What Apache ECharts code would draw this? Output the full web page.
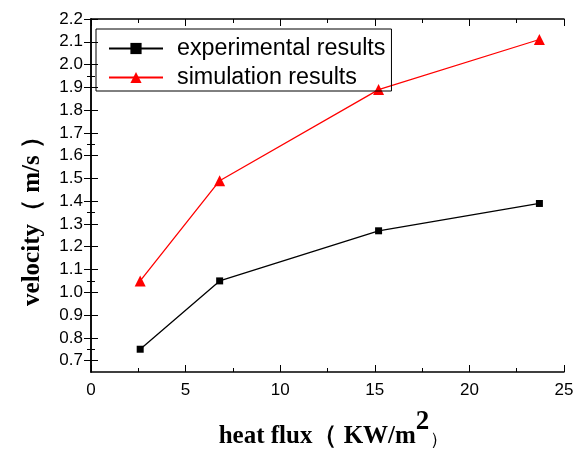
<!DOCTYPE html>
<html><head><meta charset="utf-8">
<script src="https://cdn.jsdelivr.net/npm/echarts@6/dist/echarts.min.js"></script>
<style>html,body{margin:0;padding:0;background:#fff}#c{width:574px;height:454px}</style>
</head><body><div id="c"></div>
<script>
var heatFlux = [2.6, 6.8, 15.2, 23.7];
var experimental = [0.75, 1.05, 1.27, 1.39];
var simulation = [1.05, 1.49, 1.89, 2.11];
var seriesNames = ['experimental results', 'simulation results'];
var yTicks = [0.7,0.8,0.9,1.0,1.1,1.2,1.3,1.4,1.5,1.6,1.7,1.8,1.9,2.0,2.1,2.2];

function pairs(xs, ys){ return xs.map(function(x,i){return [x, ys[i]];}); }

var chart = echarts.init(document.getElementById('c'));
var tickLab = {fontFamily:'Arial, Liberation Sans', fontSize:17, color:'#000'};
var axLine = {show:true, lineStyle:{color:'#000', width:1.5}};
var majTick = {inside:true, length:7, lineStyle:{color:'#000', width:1}};
var minTick = {show:true, splitNumber:2, length:4, lineStyle:{color:'#000'}};
var serif = 'Liberation Serif, Times New Roman';
chart.setOption({
  animation:false,
  grid:{left:91, right:10, top:19, bottom:82, containLabel:false, outerBoundsMode:'none'},
  legend:{
    orient:'vertical', left:96, top:29,
    data:seriesNames,
    borderColor:'#000', borderWidth:1, borderRadius:0,
    padding:[8, 6, 2, 12], itemGap:6,
    itemWidth:54, itemHeight:14,
    textStyle:{fontFamily:'Arial, Liberation Sans', fontSize:23.3, color:'#000', padding:[0,0,0,9]}
  },
  xAxis:[{
    type:'value', min:0, max:25, interval:5,
    axisLine:axLine, axisTick:majTick, minorTick:minTick,
    splitLine:{show:false},
    axisLabel:Object.assign({margin:10}, tickLab),
    name:'{b|heat flux（ KW/m}{s|2}{p|）}',
    nameLocation:'middle', nameGap:37,
    nameTextStyle:{padding:[0,0,0,12], rich:{
      b:{fontFamily:serif, fontWeight:'bold', fontSize:25, color:'#000', verticalAlign:'bottom'},
      s:{fontFamily:serif, fontWeight:'bold', fontSize:27, color:'#000', verticalAlign:'top', padding:[0,1,13,0]},
      p:{fontFamily:serif, fontSize:18, color:'#000', verticalAlign:'bottom'}
    }}
  },{
    type:'value', position:'top', min:0, max:25, interval:5,
    axisLine:axLine, axisTick:majTick, minorTick:minTick,
    splitLine:{show:false}, axisLabel:{show:false}
  }],
  yAxis:[{
    type:'value', min:0.65, max:2.2,
    axisLine:axLine,
    splitLine:{show:false},
    axisLabel:Object.assign({margin:8, formatter:function(v){return v.toFixed(1);},
      customValues:yTicks}, tickLab),
    axisTick:Object.assign({customValues:yTicks}, majTick),
    minorTick:minTick,
    name:'velocity（ m/s ）', nameLocation:'middle', nameGap:46,
    nameTextStyle:{fontFamily:serif, fontWeight:'bold', fontSize:25, color:'#000', padding:[0,39,0,0]}
  },{
    type:'value', position:'right', min:0.65, max:2.2,
    axisLine:axLine,
    axisTick:Object.assign({customValues:yTicks}, majTick),
    minorTick:minTick,
    splitLine:{show:false}, axisLabel:{show:false}
  }],
  series:[{
    name:seriesNames[0], type:'line', data:pairs(heatFlux, experimental),
    symbol:'rect', symbolSize:7,
    lineStyle:{color:'#000', width:1.3}, itemStyle:{color:'#000'}
  },{
    name:seriesNames[1], type:'line', data:pairs(heatFlux, simulation),
    symbol:'triangle', symbolSize:11,
    lineStyle:{color:'#ff0000', width:1.3}, itemStyle:{color:'#ff0000'}
  }]
});
</script></body></html>
